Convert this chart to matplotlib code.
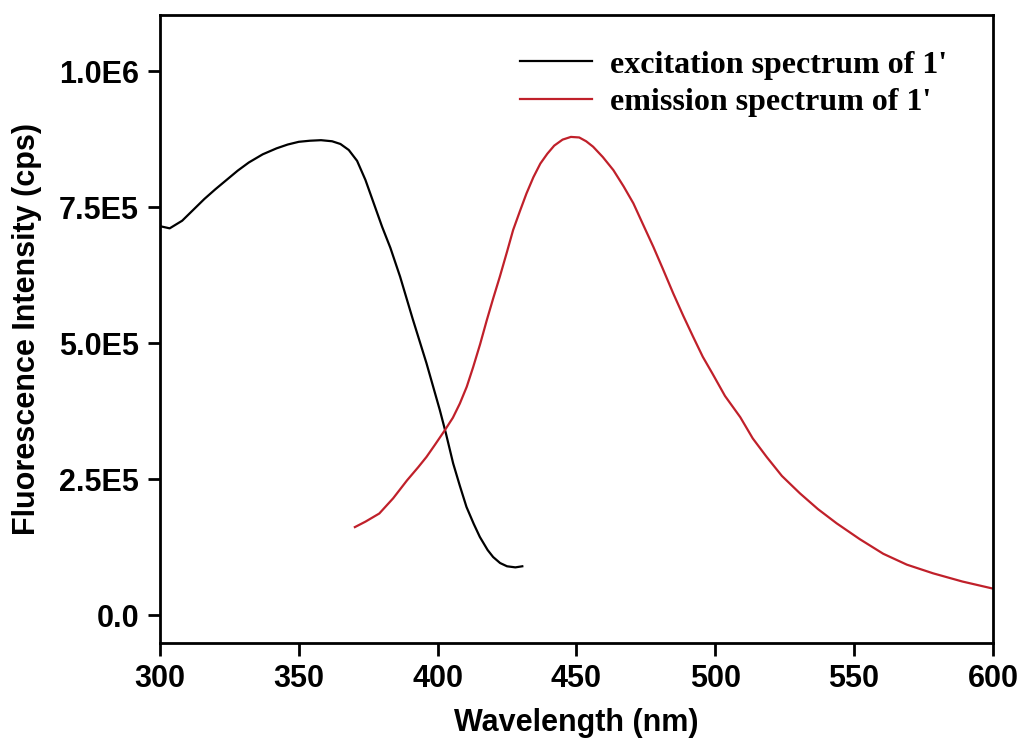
import matplotlib
matplotlib.use("Agg")
import matplotlib.pyplot as plt

# excitation spectrum (black)
ex_wl = [300, 303.5, 308, 312, 316, 320, 324, 328, 332, 337, 342, 346, 350,
         354, 358, 362, 365, 368, 371, 374, 377, 380, 383, 386.5, 391, 396,
         400.8, 403, 405.6, 408, 410.4, 413, 415.2, 418, 420, 422.5, 425, 428,
         430.5]
ex_int = [7.15e5, 7.11e5, 7.25e5, 7.45e5, 7.65e5, 7.83e5, 8.0e5, 8.17e5,
          8.32e5, 8.47e5, 8.58e5, 8.65e5, 8.70e5, 8.72e5, 8.73e5, 8.71e5,
          8.66e5, 8.55e5, 8.35e5, 8.0e5, 7.57e5, 7.14e5, 6.75e5, 6.22e5,
          5.45e5, 4.63e5, 3.77e5, 3.34e5, 2.79e5, 2.38e5, 1.99e5, 1.68e5,
          1.44e5, 1.2e5, 1.07e5, 9.6e4, 9.0e4, 8.8e4, 9.0e4]

# emission spectrum (red)
em_wl = [370.2, 374, 379, 384, 389, 393, 396, 399, 402.6, 405.5, 408, 410.5,
         412.8, 415.3, 417.7, 420, 422.4, 425, 427.2, 429.6, 432, 434.5, 437,
         439.5, 442, 445, 448, 451, 453.5, 456, 459.5, 463.3, 467, 470.5, 474,
         477.7, 481, 484.9, 488.5, 492, 495.5, 499, 503.5, 509, 513.5, 518.5,
         524, 530.5, 537, 543.7, 552, 560.5, 569, 578.5, 589, 600]
em_int = [1.62e5, 1.72e5, 1.87e5, 2.15e5, 2.48e5, 2.72e5, 2.91e5, 3.13e5,
          3.40e5, 3.63e5, 3.89e5, 4.2e5, 4.56e5, 4.98e5, 5.42e5, 5.82e5,
          6.22e5, 6.68e5, 7.08e5, 7.42e5, 7.75e5, 8.05e5, 8.3e5, 8.48e5,
          8.63e5, 8.74e5, 8.79e5, 8.78e5, 8.71e5, 8.61e5, 8.42e5, 8.18e5,
          7.88e5, 7.57e5, 7.18e5, 6.77e5, 6.38e5, 5.91e5, 5.5e5, 5.12e5,
          4.75e5, 4.44e5, 4.03e5, 3.64e5, 3.25e5, 2.91e5, 2.56e5, 2.24e5,
          1.95e5, 1.69e5, 1.4e5, 1.13e5, 9.3e4, 7.7e4, 6.2e4, 4.9e4]

x_ticks = [300, 350, 400, 450, 500, 550, 600]
y_ticks = [0, 2.5e5, 5.0e5, 7.5e5, 1.0e6]
y_labels = ["0.0", "2.5E5", "5.0E5", "7.5E5", "1.0E6"]

plt.rcParams["font.family"] = "Liberation Sans"
plt.rcParams["font.weight"] = "bold"

fig = plt.figure(figsize=(10.30, 7.47), dpi=100)
ax = fig.add_axes([0.1553, 0.1392, 0.8087, 0.8407])

ax.plot(ex_wl, ex_int, color="black", lw=1.6, label="excitation spectrum of 1'")
ax.plot(em_wl, em_int, color="#c0202a", lw=1.6, label="emission spectrum of 1'")

ax.set_xlim(300, 600)
ax.set_ylim(-5.1e4, 1.103e6)
ax.set_xticks(x_ticks)
ax.set_yticks(y_ticks)
ax.set_yticklabels(y_labels)
ax.tick_params(direction="out", length=9, width=2, labelsize=22, pad=6)
ax.tick_params(top=False, right=False)
for lab in ax.get_xticklabels() + ax.get_yticklabels():
    lab.set_fontweight("bold")
for s in ax.spines.values():
    s.set_linewidth(2)

ax.set_xlabel("Wavelength (nm)", fontsize=22, fontweight="bold", labelpad=10)
ax.set_ylabel("Fluorescence Intensity (cps)", fontsize=22, fontweight="bold", labelpad=12)

leg = ax.legend(loc="upper left", bbox_to_anchor=(0.432, 0.944), frameon=False,
                prop={"family": "Liberation Serif", "weight": "bold", "size": 23},
                handlelength=2.26, handletextpad=0.56, labelspacing=0.26,
                borderpad=0, borderaxespad=0)

fig.savefig("out.png", dpi=100)
